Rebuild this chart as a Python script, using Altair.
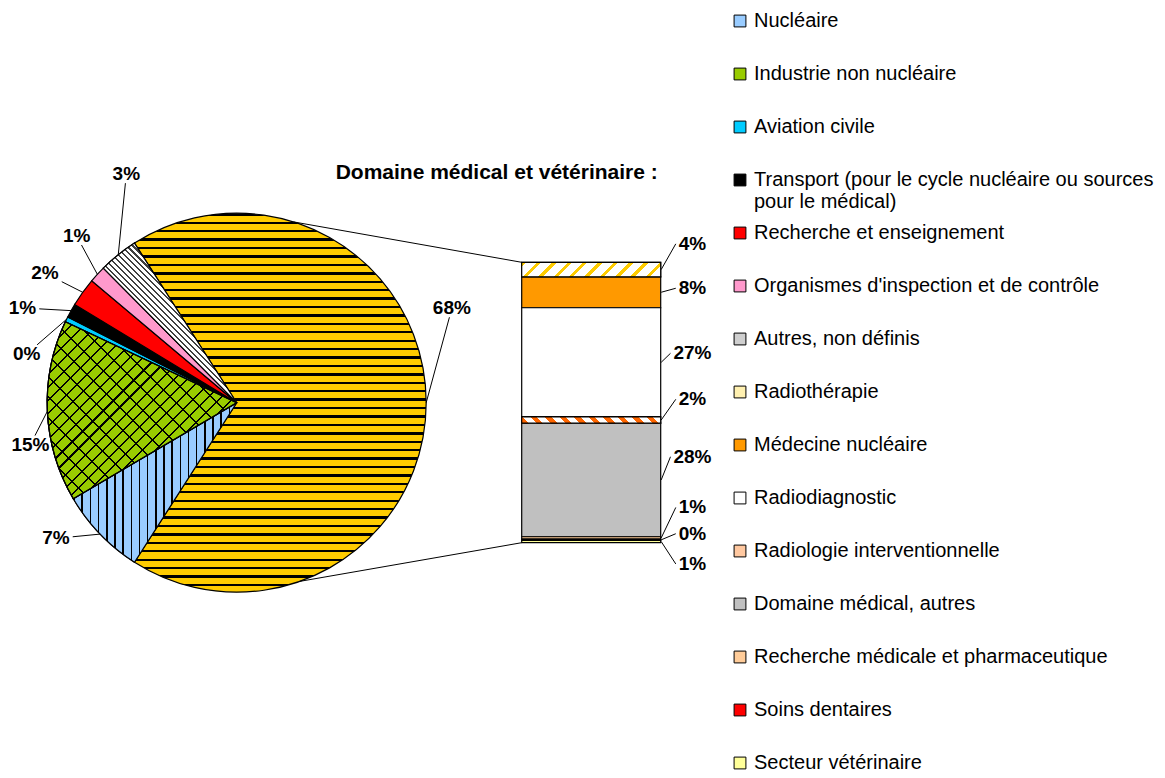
import math
import json
import altair as alt
import pandas as pd

# ---------------- data (values in % of the total) ----------------
pie_categories = [
    "Nucléaire",
    "Industrie non nucléaire",
    "Aviation civile",
    "Transport (pour le cycle nucléaire ou sources pour le médical)",
    "Recherche et enseignement",
    "Organismes d'inspection et de contrôle",
    "Autres, non définis",
]
pie_values = [7.48, 15.48, 0.45, 1.2, 2.45, 1.45, 3.36]

combined_label = "Domaine médical et vétérinaire"
medical_categories = [
    "Radiothérapie",
    "Médecine nucléaire",
    "Radiodiagnostic",
    "Radiologie interventionnelle",
    "Domaine médical, autres",
    "Recherche médicale et pharmaceutique",
    "Soins dentaires",
    "Secteur vétérinaire",
]
medical_values = [3.52, 7.52, 26.52, 1.52, 27.6, 0.6, 0.3, 0.55]

# ---------------- styles ----------------
pie_colors = ["#99CCFF", "#99CC00", "#00CCFF", "#000000", "#FF0000", "#FF99CC", "#CFCFCF"]
medical_colors = ["#FFF0B0", "#FF9900", "#FFFFFF", "#FFC8A0", "#C0C0C0", "#FFCC99", "#FF0000", "#FFFF99"]
COMBINED_COLOR = "#FFCC00"
FONT = "Arial, Liberation Sans, sans-serif"
LEGEND_WRAP = {pie_categories[3]: ["Transport (pour le cycle nucléaire ou sources", "pour le médical)"]}

# ---------------- layout (pixels inside the chart) ----------------
W, H = 1149, 762
CX, CY, R = 228.7, 394.7, 189.5
BAR_X0, BAR_X1, BAR_TOP, BAR_BOT = 513.7, 652.7, 254.3, 534.7
CONNECT_DEG = [17.4, 160.5]
# label nudges: (angle offset in degrees from slice middle, radius px)
PIE_LABEL_NUDGE = [(-23.7, 235), (7.0, 226), (-8.9, 210.5), (-13.0, 215.6),
                   (-5.2, 234.2), (-1.6, 231.3), (3.5, 231.1), (12.9, 253.8)]
BAR_LABEL_X = 684.5
BAR_LABEL_NUDGE = [-25.7, -4, -9, -20.7, -23.2, -30.5, -6.1, 22.4]
TITLE_X, TITLE_Y = 488.7, 165
LABEL_SIZE = 19
LEGEND_SIZE = 20

# ---------------- geometry derived from data ----------------
medical_total = sum(medical_values)
grand_total = medical_total + sum(pie_values)
theta0 = 90 - medical_total / grand_total * 180.0  # combined slice centred facing the bar

slice_names = [combined_label] + pie_categories
slice_values = [medical_total] + pie_values
starts, ends = [], []
acc = 0.0
for v in slice_values:
    starts.append(acc)
    acc += v
    ends.append(acc)
pie_df = pd.DataFrame({"cat": slice_names, "value": slice_values, "start": starts, "end": ends})


def deg_of(v):
    return theta0 + v / grand_total * 360.0


def polar(deg, r):
    a = math.radians(deg)
    return CX + r * math.sin(a), CY - r * math.cos(a)


def pct(v):
    return f"{int(math.floor(v + 0.5))}%"


def text_w(s):
    return sum(0.889 if ch == "%" else 0.556 for ch in s) * LABEL_SIZE


def box_end(lx, ly, px, py, hw, hh):
    vx, vy = px - lx, py - ly
    s = min(hw / abs(vx) if vx else 1e9, hh / abs(vy) if vy else 1e9)
    s = min(s, 1.0)
    return lx + vx * s, ly + vy * s


theta_scale = alt.Scale(domain=[0, grand_total],
                        range=[math.radians(theta0), math.radians(theta0) + 2 * math.pi])

# bar stack (bottom = last category)
y0s, y1s = {}, {}
acc = 0.0
for name, v in zip(reversed(medical_categories), reversed(medical_values)):
    y0s[name] = acc
    acc += v
    y1s[name] = acc
bar_df = pd.DataFrame({"cat": medical_categories,
                       "value": medical_values,
                       "y0": [y0s[c] for c in medical_categories],
                       "y1": [y1s[c] for c in medical_categories]})
y_scale = alt.Scale(domain=[0, medical_total], range=[BAR_BOT, BAR_TOP], nice=False, zero=False)


def ypix(v):
    return BAR_BOT + (BAR_TOP - BAR_BOT) * v / medical_total


# ---------------- pattern fills (striped gradients) ----------------
def stripe_fill(bg, fg, period, frac, kind, w=1.0, h=1.0):
    if kind == "h":
        span, coords = h, dict(x1=0, y1=0, x2=0, y2=1)
    elif kind == "v":
        span, coords = w, dict(x1=0, y1=0, x2=1, y2=0)
    else:
        k = (w + h) / (w * w + h * h)
        span = w + h
        if kind == "slash":
            coords = dict(x1=0, y1=0, x2=w * k, y2=h * k)
        else:
            coords = dict(x1=0, y1=1, x2=w * k, y2=1 - h * k)
    n = max(1, int(round(span / period)))
    stops = []
    for i in range(n):
        a, b, c = i / n, (i + frac) / n, (i + 1) / n
        stops += [alt.GradientStop(offset=round(a, 5), color=fg),
                  alt.GradientStop(offset=round(b, 5), color=fg),
                  alt.GradientStop(offset=round(b, 5), color=bg),
                  alt.GradientStop(offset=round(c, 5), color=bg)]
    return alt.LinearGradient(gradient="linear", stops=stops, **coords)


def arc_bbox(name):
    row = pie_df[pie_df.cat == name].iloc[0]
    a0, a1 = deg_of(row.start), deg_of(row.end)
    pts = [(CX, CY)] + [polar(a0 + (a1 - a0) * k / 240, R) for k in range(241)]
    xs = [p[0] for p in pts]
    ys = [p[1] for p in pts]
    return max(xs) - min(xs), max(ys) - min(ys)


def bar_bbox(name):
    row = bar_df[bar_df.cat == name].iloc[0]
    return BAR_X1 - BAR_X0, abs(ypix(row.y1) - ypix(row.y0))


# ---------------- legend / colour ----------------
legend_domain = pie_categories + medical_categories
color_scale = alt.Scale(domain=legend_domain, range=pie_colors + medical_colors)
parts = []
for k, lines in LEGEND_WRAP.items():
    parts.append(f"datum.label == {json.dumps(k, ensure_ascii=False)} ? {json.dumps(lines, ensure_ascii=False)} : ")
last = json.dumps(legend_domain[-1], ensure_ascii=False)
label_expr = "".join(parts) + f"datum.label == {last} ? datum.label : [datum.label, '']"
legend = alt.Legend(title=None, orient="none", legendX=722, legendY=3, direction="vertical",
                    symbolType="square", symbolSize=140, symbolStrokeColor="black",
                    symbolStrokeWidth=1, symbolOpacity=1, labelFont=FONT, labelFontSize=LEGEND_SIZE,
                    labelColor="black", labelLimit=0, labelOffset=4, rowPadding=11.0,
                    padding=0, labelExpr=label_expr)
color_enc = alt.Color("cat:N", scale=color_scale, legend=legend, sort=legend_domain)

theta_enc = alt.Theta("start:Q", scale=theta_scale, stack=None)
center = dict(x=alt.value(CX), y=alt.value(CY))

layers = []
# base slices (solid colours, drive the legend)
layers.append(
    alt.Chart(pie_df[pie_df.cat != combined_label]).mark_arc(radius=R, stroke="black", strokeWidth=1.2)
    .encode(theta=theta_enc, theta2="end:Q", color=color_enc, **center)
)


def pie_pattern(name, fill, stroke="black"):
    return (alt.Chart(pie_df[pie_df.cat == name])
            .mark_arc(radius=R, fill=fill, stroke=stroke, strokeWidth=1.2)
            .encode(theta=theta_enc, theta2="end:Q", **center))


w, h = arc_bbox(combined_label)
layers.append(pie_pattern(combined_label, stripe_fill(COMBINED_COLOR, "#000000", 8.4, 0.28, "h", w, h)))
w, h = arc_bbox(pie_categories[0])
layers.append(pie_pattern(pie_categories[0], stripe_fill(pie_colors[0], "#000000", 8.0, 0.2, "v", w, h)))
w, h = arc_bbox(pie_categories[1])
layers.append(pie_pattern(pie_categories[1], stripe_fill(pie_colors[1], "#000000", 13, 0.16, "slash", w, h)))
layers.append(pie_pattern(pie_categories[1], stripe_fill("rgba(0,0,0,0)", "#000000", 20, 0.1, "back", w, h)))
w, h = arc_bbox(pie_categories[6])
layers.append(pie_pattern(pie_categories[6], stripe_fill("#FFFFFF", "#404040", 6, 0.4, "back", w, h)))

# bar
bar_y = alt.Y("y0:Q", scale=y_scale, axis=None)
layers.append(
    alt.Chart(bar_df).mark_bar(stroke="black", strokeWidth=1.2)
    .encode(x=alt.value(BAR_X0), x2=alt.value(BAR_X1), y=bar_y, y2="y1:Q", color=color_enc)
)


def bar_pattern(name, fill):
    return (alt.Chart(bar_df[bar_df.cat == name])
            .mark_bar(fill=fill, stroke="black", strokeWidth=1.2)
            .encode(x=alt.value(BAR_X0), x2=alt.value(BAR_X1), y=bar_y, y2="y1:Q"))


w, h = bar_bbox(medical_categories[0])
layers.append(bar_pattern(medical_categories[0], stripe_fill("#FFFFFF", "#FFCC00", 15, 0.3, "slash", w, h)))
w, h = bar_bbox(medical_categories[3])
layers.append(bar_pattern(medical_categories[3], stripe_fill("#FFFFFF", "#FF6600", 15, 0.45, "back", w, h)))

# connector lines pie -> bar
p_top = polar(CONNECT_DEG[0], R)
p_bot = polar(CONNECT_DEG[1], R)
conn_df = pd.DataFrame({"x1": [p_top[0], p_bot[0]], "y1": [p_top[1], p_bot[1]],
                        "x2": [BAR_X0, BAR_X0], "y2": [ypix(medical_total), ypix(0)]})

# pie labels + leader lines
lab_rows, lead_rows = [], []
for i, name in enumerate(slice_names):
    mid = deg_of((starts[i] + ends[i]) / 2)
    dth, rl = PIE_LABEL_NUDGE[i]
    lx, ly = polar(mid + dth, rl)
    txt = pct(slice_values[i] / grand_total * 100)
    lab_rows.append({"x": lx, "y": ly, "t": txt})
    ex, ey = polar(mid, R)
    bx, by = box_end(lx, ly, ex, ey, text_w(txt) / 2 + 3, 9)
    lead_rows.append({"x1": ex, "y1": ey, "x2": bx, "y2": by})

for i, name in enumerate(medical_categories):
    row = bar_df.iloc[i]
    yc = ypix((row.y0 + row.y1) / 2)
    ly = yc + BAR_LABEL_NUDGE[i]
    txt = pct(row.value / grand_total * 100)
    lab_rows.append({"x": BAR_LABEL_X, "y": ly, "t": txt})
    lead_rows.append({"x1": BAR_X1 + 0.5, "y1": yc, "x2": BAR_LABEL_X - text_w(txt) / 2 - 3, "y2": ly})

lab_df = pd.DataFrame(lab_rows)
lead_df = pd.DataFrame(lead_rows)

px = lambda f: alt.X(f, scale=None, axis=None)
py = lambda f: alt.Y(f, scale=None, axis=None)

layers.append(alt.Chart(conn_df).mark_rule(color="black", strokeWidth=1)
              .encode(x=px("x1:Q"), y=py("y1:Q"), x2="x2:Q", y2="y2:Q"))
layers.append(alt.Chart(lead_df).mark_rule(color="black", strokeWidth=1)
              .encode(x=px("x1:Q"), y=py("y1:Q"), x2="x2:Q", y2="y2:Q"))
layers.append(alt.Chart(lab_df).mark_text(font=FONT, fontSize=LABEL_SIZE, fontWeight="bold",
                                          color="black", align="center", baseline="middle")
              .encode(x=px("x:Q"), y=py("y:Q"), text="t:N"))
layers.append(alt.Chart(pd.DataFrame({"t": [combined_label + " :"]}))
              .mark_text(font=FONT, fontSize=21, fontWeight="bold", color="black",
                         align="center", baseline="middle")
              .encode(x=alt.value(TITLE_X), y=alt.value(TITLE_Y), text="t:N"))

chart = (alt.layer(*layers)
         .resolve_scale(x="independent", y="independent")
         .properties(width=W, height=H, padding=0, background="white")
         .configure_view(stroke=None))

chart.save("out.html", embed_options={"renderer": "svg", "actions": False})
